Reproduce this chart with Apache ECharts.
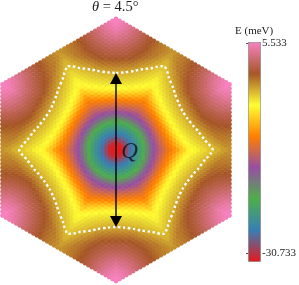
<!DOCTYPE html>
<html>
<head>
<meta charset="utf-8">
<style>html,body{margin:0;padding:0;background:#fff}#c{width:299px;height:285px}</style>
<script src="https://cdn.jsdelivr.net/npm/echarts@6/dist/echarts.min.js"></script>
</head>
<body>
<div id="c"></div>
<script>
// rowM lists the points n = M .. 33-M along lattice column M; the hexagon's 6-fold
// mirror symmetry supplies the other eleven wedges.
const row0=[-30.7,-30.0,-28.5,-26.3,-24.6,-23.1,-21.6,-19.9,-17.7,-15.7,-13.9,-12.2,-10.7,-9.2,-7.3,-5.6,-4.5,-3.8,-3.2,-2.6,-1.9,-1.2,-0.5,0.2,0.8,1.3,1.8,2.4,3.2,3.8,4.3,4.7,5.0,5.4];
const row1=[-28.9,-27.1,-25.3,-23.7,-22.2,-20.7,-18.7,-16.6,-14.8,-13.0,-11.4,-9.95,-8.3,-6.5,-5.1,-4.2,-3.5,-3.0,-2.3,-1.6,-0.9,-0.2,0.45,1.0,1.5,2.0,2.65,3.2,3.8,4.25,4.6,4.9];
const row2=[-25.5,-24.1,-22.7,-21.2,-19.4,-17.3,-15.4,-13.7,-12.1,-10.6,-9.2,-7.4,-5.7,-4.6,-3.85,-3.25,-2.65,-2.0,-1.3,-0.6,0.1,0.75,1.25,1.75,2.3,2.8,3.3,3.8,4.25,4.5];
const row3=[-22.8,-21.5,-19.9,-17.8,-15.9,-14.3,-12.7,-11.25,-9.85,-8.15,-6.45,-5.1,-4.2,-3.6,-3.0,-2.4,-1.7,-1.0,-0.3,0.4,0.95,1.35,1.85,2.35,2.9,3.35,3.8,4.1];
const row4=[-20.0,-18.1,-16.3,-14.8,-13.2,-11.8,-10.45,-9.1,-7.3,-5.7,-4.6,-3.9,-3.3,-2.75,-2.1,-1.4,-0.7,0.0,0.55,0.95,1.4,1.9,2.35,2.8,3.2,3.55];
const row5=[-16.4,-15.0,-13.6,-12.2,-10.95,-9.7,-8.15,-6.55,-5.25,-4.3,-3.7,-3.15,-2.6,-1.85,-1.15,-0.4,0.15,0.55,0.95,1.4,1.85,2.3,2.65,3.0];
const row6=[-13.9,-12.65,-11.4,-10.2,-8.9,-7.4,-5.9,-4.8,-4.1,-3.5,-3.0,-2.3,-1.6,-1.05,-0.3,0.15,0.55,0.95,1.35,1.75,2.1,2.4];
const row7=[-11.8,-10.7,-9.5,-8.15,-6.65,-5.4,-4.5,-3.9,-3.3,-2.85,-2.2,-1.55,-0.9,-0.2,0.15,0.55,0.9,1.25,1.6,1.85];
const row8=[-10.1,-9.0,-7.45,-6.1,-5.05,-4.3,-3.7,-3.25,-2.65,-2.05,-1.4,-0.75,-0.25,0.05,0.4,0.7,1.05,1.3];
const row9=[-8.3,-7.0,-5.6,-4.7,-4.1,-3.6,-3.1,-2.55,-1.9,-1.3,-0.6,-0.3,0.0,0.25,0.55,0.8];
const row10=[-6.45,-5.3,-4.5,-4.0,-3.5,-2.95,-2.45,-1.75,-1.15,-0.7,-0.4,-0.15,0.1,0.35];
const row11=[-5.1,-4.5,-3.9,-3.4,-2.85,-2.25,-1.7,-1.05,-0.8,-0.55,-0.3,-0.1];
const row12=[-4.35,-3.8,-3.3,-2.8,-2.2,-1.55,-1.0,-0.9,-0.7,-0.5];
const row13=[-3.7,-3.2,-2.65,-2.1,-1.55,-1.1,-1.0,-0.85];
const row14=[-3.1,-2.65,-2.1,-1.5,-1.25,-1.1];
const row15=[-2.55,-2.0,-1.5,-1.4];
const row16=[-2.0,-1.65];
const rows=[row0,row1,row2,row3,row4,row5,row6,row7,row8,row9,row10,row11,row12,row13,row14,row15,row16];

// Dotted contour: radius (lattice units) against angle from a hexagon vertex direction.
const contourAngle=[0,6,13.5,17,24,26,28,30];
const contourRadius=[19.4,19.65,20.5,21.2,22.6,23.3,23.9,24.4];

// Arrow half-length (lattice units), Q label anchor, and colour stops, bottom to top.
const arrowQ=18;
const labelQ=[[3.4,-0.4]];
const colorStops=['#e41a1c','#377eb8','#4daf4a','#984ea3','#ff7f00','#ffff33','#a65628','#f781bf'];
const barTicks=[-30.733,5.533];

const S3=Math.sqrt(3)/2;
const pts=new Map();
rows.forEach((row,m)=>row.forEach((e,i)=>{
  const n=m+i, x0=S3*m, y0=n+0.5*m;
  for(let k=0;k<6;k++){
    const a=k*Math.PI/3, c=Math.cos(a), s=Math.sin(a);
    for(const sx of [1,-1]){
      const x=sx*x0*c-y0*s, y=sx*x0*s+y0*c;
      const key=Math.round(x*100)+'_'+Math.round(y*100);
      if(!pts.has(key)) pts.set(key,[x,y,e]);
    }
  }
}));
const lattice=[...pts.values()];

const contour=[];
for(let k=0;k<6;k++){
  const base=k*60;
  contourAngle.forEach((a,i)=>{contour.push([base+a,contourRadius[i]]);});
  for(let i=contourAngle.length-2;i>0;i--){contour.push([base+60-contourAngle[i],contourRadius[i]]);}
}
contour.push(contour[0]);
const contourXY=contour.map(([a,r])=>[r*Math.sin(a*Math.PI/180),r*Math.cos(a*Math.PI/180)]);

const serif='"Liberation Serif","DejaVu Serif",serif';
const chart=echarts.init(document.getElementById('c'),null,{renderer:'canvas'});
chart.setOption({
  animation:false,
  backgroundColor:'#fff',
  grid:[
    {left:0,top:15,width:232,height:270},
    {left:248,top:43.5,width:12,height:210}
  ],
  xAxis:[
    {gridIndex:0,type:'value',min:-29.22,max:29.22,show:false},
    {gridIndex:1,type:'value',min:0,max:1,show:false}
  ],
  yAxis:[
    {gridIndex:0,type:'value',min:-34,max:34,show:false},
    {gridIndex:1,type:'value',position:'right',min:-30.733,max:5.533,z:10,
     splitLine:{show:false},axisLine:{show:false},
     axisTick:{show:true,inside:true,length:2,lineStyle:{color:'#444',width:1},customValues:barTicks},
     axisLabel:{show:true,margin:4,fontFamily:serif,fontSize:11,color:'#222',customValues:barTicks,
       formatter:v=>String(v)}}
  ],
  visualMap:{
    type:'continuous',seriesIndex:0,dimension:2,min:-29.5,max:5.0,
    left:248,top:42,itemWidth:12,itemHeight:219,padding:0,
    borderColor:'#8c8c8c',borderWidth:1,
    text:null,showLabel:false,calculable:false,hoverLink:false,
    inRange:{color:colorStops}
  },
  series:[
    {type:'scatter',xAxisIndex:0,yAxisIndex:0,data:lattice,symbol:'circle',symbolSize:4.8,silent:true,z:2,
     progressive:0,large:false,
     itemStyle:{opacity:1},emphasis:{disabled:true}},
    {type:'line',xAxisIndex:0,yAxisIndex:0,data:contourXY,showSymbol:false,smooth:0.25,silent:true,z:3,
     lineStyle:{color:'#fff',width:2.4,type:[2.4,2.6],cap:'butt'}},
    {type:'line',xAxisIndex:0,yAxisIndex:0,silent:true,z:4,
     data:[
       {value:[0,arrowQ],symbol:'triangle',symbolSize:[12,11],symbolRotate:0},
       {value:[0,-arrowQ],symbol:'triangle',symbolSize:[12,11],symbolRotate:180}
     ],
     showSymbol:true,showAllSymbol:true,
     lineStyle:{color:'#000',width:1.4},itemStyle:{color:'#000'}},
    {type:'scatter',xAxisIndex:0,yAxisIndex:0,silent:true,z:5,data:labelQ,symbolSize:1,
     itemStyle:{color:'rgba(0,0,0,0)'},
     label:{show:true,position:'inside',formatter:'Q',fontFamily:serif,fontStyle:'italic',fontSize:23,color:'#111'}}
  ],
  graphic:[
    {type:'text',left:92,top:0,z:20,silent:true,style:{
      text:'{i|θ} = 4.5°',
      rich:{i:{fontFamily:serif,fontStyle:'italic',fontSize:14.5,fill:'#222'}},
      fontFamily:serif,fontSize:14.5,fill:'#222'}},
    {type:'text',left:235,top:26,z:20,silent:true,style:{
      text:'E (meV)',fontFamily:serif,fontSize:11,fill:'#222'}}
  ]
});
</script>
</body>
</html>
